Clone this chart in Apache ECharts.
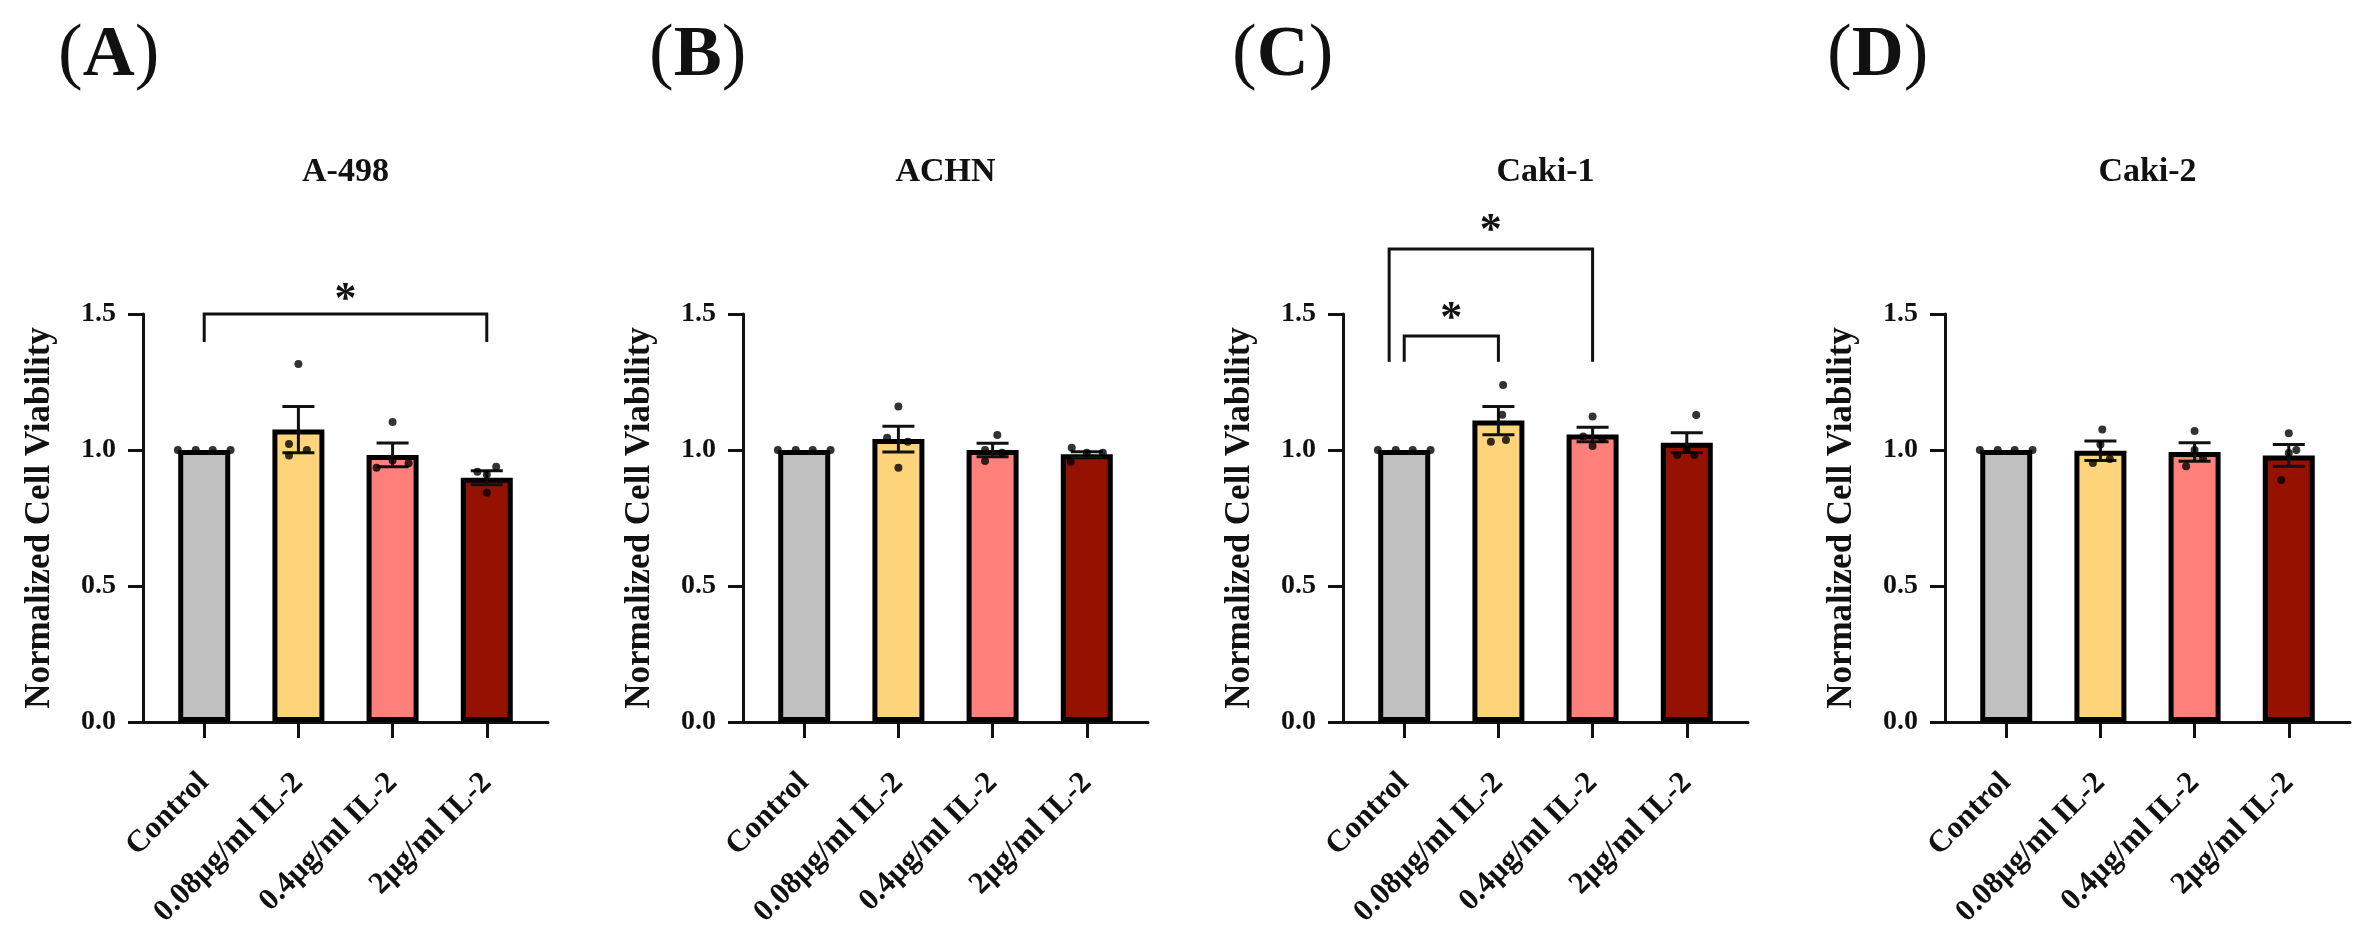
<!DOCTYPE html>
<html>
<head>
<meta charset="utf-8">
<title>IL-2 cell viability</title>
<script src="https://cdn.jsdelivr.net/npm/echarts@6.0.0/dist/echarts.min.js"></script>
<style>
  html, body { margin: 0; padding: 0; background: #fff; }
  #chart { width: 2377px; height: 935px; }
</style>
</head>
<body>
<div id="chart"></div>
<script>
var categories = ['Control', '0.08μg/ml IL-2', '0.4μg/ml IL-2', '2μg/ml IL-2'];
var cellLines = ['A-498', 'ACHN', 'Caki-1', 'Caki-2'];
var panelLetters = ['A', 'B', 'C', 'D'];
var barColors = ['#c0c0c0', '#fed47b', '#ff7f7a', '#961200'];
var yTicks = [0, 0.5, 1.0, 1.5];

// bar heights (mean) and SEM
var meanA = [1.0, 1.075, 0.982, 0.898];
var semA = [0, 0.085, 0.044, 0.026];
var meanB = [1.0, 1.04, 1.0, 0.984];
var semB = [0, 0.047, 0.025, 0.01];
var meanC = [1.0, 1.108, 1.057, 1.027];
var semC = [0, 0.052, 0.027, 0.036];
var meanD = [1.0, 0.997, 0.993, 0.98];
var semD = [0, 0.036, 0.034, 0.04];

// single replicates (4 per group)
var dotsA = [[1, 1, 1, 1], [1.316, 1.022, 0.98, 1.0], [1.103, 0.935, 0.961, 0.951], [0.92, 0.938, 0.843, 0.91]];
var dotsB = [[1, 1, 1, 1], [1.16, 0.935, 1.045, 1.03], [1.055, 0.96, 1.0, 0.99], [1.008, 0.957, 0.99, 0.99]];
var dotsC = [[1, 1, 1, 1], [1.239, 1.03, 1.037, 1.13], [1.123, 1.015, 1.05, 1.04], [1.129, 0.982, 0.982, 1.0]];
var dotsD = [[1, 1, 1, 1], [1.075, 0.952, 0.967, 1.02], [1.07, 0.94, 0.97, 1.0], [1.062, 0.89, 1.0, 0.989]];

// horizontal scatter of the replicate dots, in category units
var jitterA = [[-0.28, -0.09, 0.09, 0.28], [0, -0.1, -0.1, 0.09], [0, -0.17, 0, 0.17], [-0.1, 0.1, 0, 0]];
var jitterB = [[-0.28, -0.09, 0.09, 0.28], [0, 0, -0.12, 0.1], [0.05, -0.08, -0.08, 0.1], [-0.16, -0.17, 0, 0.17]];
var jitterC = [[-0.28, -0.09, 0.09, 0.28], [0.05, -0.08, 0.08, 0.04], [0, 0, -0.1, 0.1], [0.1, -0.1, 0.08, 0]];
var jitterD = [[-0.28, -0.09, 0.09, 0.28], [0.02, -0.08, 0.1, 0], [0, -0.09, 0.09, 0], [0, -0.08, 0.08, 0]];

// significance brackets: [from, to, bracket top, leg bottom, star height]
var sigA = [[0, 3, 1.5, 1.397, 1.58]];
var sigB = [];
var sigC = [[0, 1, 1.419, 1.324, 1.507], [-0.16, 2, 1.739, 1.324, 1.831]];
var sigD = [];

var means = [meanA, meanB, meanC, meanD];
var sems = [semA, semB, semC, semD];
var dots = [dotsA, dotsB, dotsC, dotsD];
var jitters = [jitterA, jitterB, jitterC, jitterD];
var sigs = [sigA, sigB, sigC, sigD];

var FONT = 'Liberation Serif';
var INK = '#111';
var gridLeft = [143, 743, 1343, 1945];
var gridTop = 314;
var gridW = 405;
var gridH = 408;

var dom = document.getElementById('chart');
var myChart = echarts.init(dom);

function errorBar(params, api) {
	var x = api.value(0), m = api.value(1), s = api.value(2);
	var hi = api.coord([x, m + s]);
	var lo = api.coord([x, m - s]);
	var cap = 16;
	var st = { stroke: INK, lineWidth: 3 };
	return {
		type: 'group',
		children: [
			{ type: 'line', shape: { x1: hi[0], y1: hi[1], x2: lo[0], y2: lo[1] }, style: st },
			{ type: 'line', shape: { x1: hi[0] - cap, y1: hi[1], x2: hi[0] + cap, y2: hi[1] }, style: st },
			{ type: 'line', shape: { x1: lo[0] - cap, y1: lo[1], x2: lo[0] + cap, y2: lo[1] }, style: st }
		]
	};
}

function bracket(params, api) {
	var a = api.value(0), b = api.value(1), top = api.value(2), leg = api.value(3), star = api.value(4);
	var p1 = api.coord([a, leg]), p2 = api.coord([a, top]), p3 = api.coord([b, top]), p4 = api.coord([b, leg]);
	var s = api.coord([(a + b) / 2, star]);
	return {
		type: 'group',
		children: [
			{ type: 'polyline', shape: { points: [p1, p2, p3, p4] }, style: { stroke: INK, lineWidth: 3, fill: null } },
			{ type: 'text', x: s[0], y: s[1] + 8, style: { text: '*', fill: INK, font: 'bold 44px "' + FONT + '"', align: 'center', verticalAlign: 'middle' } }
		]
	};
}

var grids = [], xAxes = [], yAxes = [], series = [], graphics = [];
for (var i = 0; i < 4; i++) {
	grids.push({ left: gridLeft[i], top: gridTop, width: gridW, height: gridH });
	xAxes.push({
		gridIndex: i, type: 'value', min: -0.65, max: 3.65,
		splitLine: { show: false },
		axisLine: { onZero: false, lineStyle: { color: INK, width: 3 } },
		axisTick: { customValues: [0, 1, 2, 3], length: 16, lineStyle: { color: INK, width: 3 } },
		axisLabel: {
			customValues: [0, 1, 2, 3], rotate: 45, margin: 56,
			color: INK, fontFamily: FONT, fontSize: 31, fontWeight: 'bold',
			formatter: function (v) { return categories[Math.round(v)]; }
		}
	});
	yAxes.push({
		gridIndex: i, type: 'value', min: 0, max: 1.5, interval: 0.5,
		name: 'Normalized Cell Viability', nameLocation: 'middle', nameGap: 86, nameRotate: 90,
		nameTextStyle: { color: INK, fontFamily: FONT, fontSize: 35, fontWeight: 'bold' },
		splitLine: { show: false },
		axisLine: { show: true, onZero: false, lineStyle: { color: INK, width: 3 } },
		axisTick: { show: true, length: 15, lineStyle: { color: INK, width: 3 } },
		axisLabel: {
			margin: 27, color: INK, fontFamily: FONT, fontSize: 28, fontWeight: 'bold',
			customValues: yTicks,
			formatter: function (v) { return v.toFixed(1); }
		}
	});

	var barData = [], errData = [], dotData = [];
	for (var k = 0; k < 4; k++) {
		barData.push({ value: [k, means[i][k]], itemStyle: { color: barColors[k] } });
		if (sems[i][k] > 0) errData.push([k, means[i][k], sems[i][k]]);
		for (var r = 0; r < dots[i][k].length; r++) {
			dotData.push([k + jitters[i][k][r], dots[i][k][r]]);
		}
	}
	series.push({
		type: 'bar', xAxisIndex: i, yAxisIndex: i, barWidth: 52, data: barData,
		itemStyle: { borderColor: '#000', borderWidth: 5 }, silent: true
	});
	series.push({
		type: 'custom', xAxisIndex: i, yAxisIndex: i, renderItem: errorBar, data: errData, z: 3, silent: true
	});
	series.push({
		type: 'scatter', xAxisIndex: i, yAxisIndex: i, data: dotData, symbolSize: 8,
		itemStyle: { color: '#000' }, z: 4, silent: true
	});
	if (sigs[i].length) {
		series.push({
			type: 'custom', xAxisIndex: i, yAxisIndex: i, renderItem: bracket, data: sigs[i], clip: false, z: 4, silent: true
		});
	}

	graphics.push({
		type: 'text', x: gridLeft[i] + gridW / 2, y: 172,
		style: { text: cellLines[i], fill: INK, font: 'bold 34px "' + FONT + '"', align: 'center', verticalAlign: 'middle' }
	});
}

var letterX = [58, 649, 1232, 1827];
for (var j = 0; j < 4; j++) {
	graphics.push({
		type: 'text', x: letterX[j], y: 56,
		style: {
			text: '{p|(}{b|' + panelLetters[j] + '}{p|)}', verticalAlign: 'middle',
			rich: {
				p: { fontFamily: FONT, fontSize: 74, fill: INK, fontWeight: 'normal' },
				b: { fontFamily: FONT, fontSize: 72, fill: INK, fontWeight: 'bold' }
			}
		}
	});
}

var option = {
	backgroundColor: '#fff',
	animation: false,
	grid: grids,
	xAxis: xAxes,
	yAxis: yAxes,
	series: series,
	graphic: graphics
};
myChart.setOption(option, true);
</script>
</body>
</html>
